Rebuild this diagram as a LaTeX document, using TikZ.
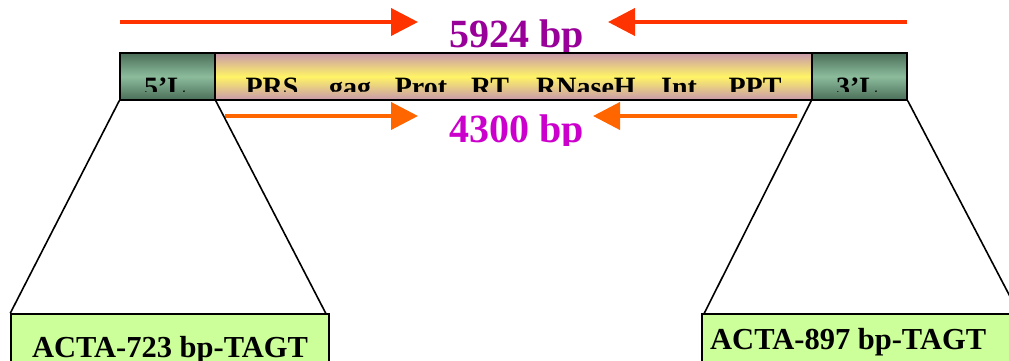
\documentclass[tikz,border=0pt]{standalone}
\usepackage{fontspec}
\setmainfont{Liberation Serif}
\usetikzlibrary{arrows.meta,positioning}
\definecolor{ltrdark}{HTML}{4A6E58}
\definecolor{ltrlight}{HTML}{8CBC9C}
\definecolor{gagpink}{HTML}{C898AC}
\definecolor{gagyellow}{HTML}{FFF466}
\definecolor{flankgreen}{HTML}{CCFF99}
\definecolor{fullred}{HTML}{FF3300}
\definecolor{intorange}{HTML}{FF6600}
\definecolor{fullpurple}{HTML}{990099}
\definecolor{intmagenta}{HTML}{CC00CC}

\begin{document}
\begin{tikzpicture}[x=1pt,y=-1pt, every node/.style={inner sep=0pt},
  ltr/.style={draw,line width=1.5pt,top color=ltrdark,bottom color=ltrdark,middle color=ltrlight,minimum width=95pt,minimum height=47pt},
  body/.style={draw,line width=1.5pt,top color=gagpink,bottom color=gagpink,middle color=gagyellow,minimum width=597pt,minimum height=47pt},
  flank/.style={draw,line width=1.5pt,fill=flankgreen,minimum height=70pt},
  part/.style={anchor=base,font=\fontsize{28}{30}\selectfont\bfseries},
  size/.style={anchor=base,font=\fontsize{40}{42}\selectfont\bfseries},
  seq/.style={anchor=base,font=\fontsize{30.5}{32}\selectfont\bfseries},
  span/.style={line width=4pt,-{Triangle[length=27pt,width=27pt]}},
  zoomline/.style={line width=1.6pt}]
\useasboundingbox (0,0) rectangle (1009,360);
\clip (0,0) rectangle (1009,360);
% arrows and sizes
\coordinate (f1) at (120,22); \coordinate (f2) at (418,22);
\coordinate (f3) at (907,22); \coordinate (f4) at (608,22);
\coordinate (i1) at (225,116); \coordinate (i2) at (418,116);
\coordinate (i3) at (797,116); \coordinate (i4) at (593,116);
\draw[span,fullred] (f1)--(f2); \draw[span,fullred] (f3)--(f4);
\draw[span,intorange] (i1)--(i2); \draw[span,intorange] (i3)--(i4);
\node[size,text=fullpurple] (full) at (517,47) {5924 bp};
\begin{scope}
\clip (400,100) rectangle (620,145);
\node[size,text=intmagenta] (inner) at (517,142) {4300 bp};
\end{scope}
% element
\node[ltr] (l5) at (167.5,76.5) {};
\node[body] (mid) at (513.5,76.5) {};
\node[ltr] (l3) at (859.5,76.5) {};
\begin{scope}
\clip (120,53) rectangle (907,91);
\node[part] (n5) at (165,96) {5’L};
\node[part] (prs) at (272,96) {PRS};
\node[part] (gag) at (350,96) {gag};
\node[part] (prot) at (421,96) {Prot};
\node[part] (rt) at (490,96) {RT};
\node[part] (rnh) at (586,96) {RNaseH};
\node[part] (int) at (679,96) {Int};
\node[part] (ppt) at (755,96) {PPT};
\node[part] (n3) at (857,96) {3’L};
\end{scope}
% flanking sequences
\node[flank,minimum width=318pt] (u5) at (170,349) {};
\node[flank,minimum width=316pt] (u3) at (860,349) {};
\node[seq] (s5) at (170,357) {ACTA-723 bp-TAGT};
\node[seq,anchor=base west] (s3) at (710,349) {ACTA-897 bp-TAGT};
\draw[zoomline] (l5.south west)--(u5.north west);
\draw[zoomline] (l5.south east)--([xshift=-4pt]u5.north east);
\draw[zoomline] (l3.south west)--([xshift=3pt]u3.north west);
\draw[zoomline] (l3.south east)--(u3.north east);
\end{tikzpicture}
\end{document}
